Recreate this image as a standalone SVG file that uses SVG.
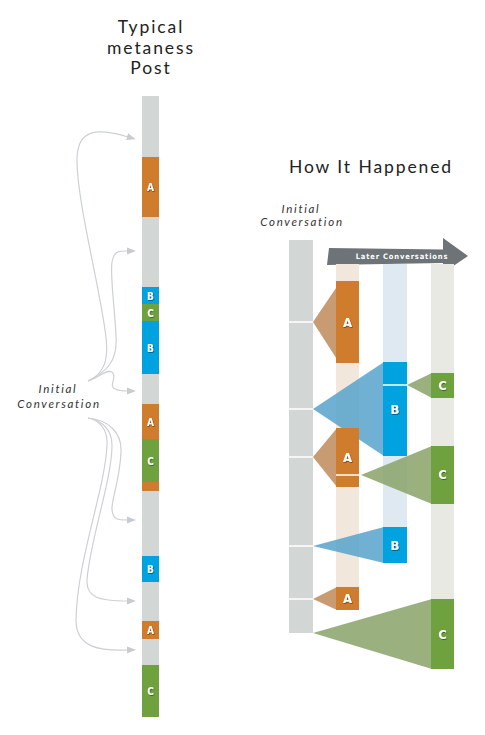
<svg xmlns="http://www.w3.org/2000/svg" width="485" height="735" viewBox="0 0 485 735">
<style>
.title{font-family:Lato,"DejaVu Sans",sans-serif;font-size:17.5px;fill:#222;letter-spacing:1.9px;text-anchor:middle}
.ital{font-family:Lato,"DejaVu Sans",sans-serif;font-style:italic;font-size:11.5px;fill:#333;letter-spacing:1.7px;text-anchor:middle}
.lbl{font-family:"DejaVu Sans Condensed","DejaVu Sans",sans-serif;font-weight:bold;fill:#fff;text-anchor:middle;filter:url(#sh)}
.s{font-size:10px}
.b{font-size:13px}
.gray{fill:#d2d6d4}
.or{fill:#cf7c2c}
.bl{fill:#00a3e0}
.gr{fill:#6fa23f}
.con{fill:none;stroke:#cdd1d4;stroke-width:1.2;marker-end:url(#ah)}
.sep{stroke:#fff;stroke-width:1.5}
.tt{fill:#c08a59;fill-opacity:0.85}
.tb{fill:#56a2cb;fill-opacity:0.85}
.tg{fill:#8aa269;fill-opacity:0.85}
</style>
<defs>
<marker id="ah" markerWidth="9" markerHeight="8" refX="1" refY="4" orient="auto" markerUnits="userSpaceOnUse">
<path d="M0,0.5 L9,4 L0,7.5 Z" fill="#c8ccd0"/>
</marker>
<filter id="sh" x="-50%" y="-50%" width="200%" height="200%">
<feDropShadow dx="0.6" dy="0.8" stdDeviation="0.6" flood-color="#000" flood-opacity="0.5"/>
</filter>
</defs>
<rect width="485" height="735" fill="#fff"/>

<g id="title-left">
<text class="title" x="151" y="33">Typical</text>
<text class="title" x="151" y="54">metaness</text>
<text class="title" x="151" y="74">Post</text>
</g>
<g id="label-left">
<text class="ital" x="58" y="393">Initial</text>
<text class="ital" x="59" y="408">Conversation</text>
</g>

<g id="post-column">
<rect class="gray" x="142" y="96" width="17" height="61"/>
<rect class="or" x="142" y="157" width="17" height="60"/>
<rect class="gray" x="142" y="217" width="17" height="70"/>
<rect class="bl" x="142" y="287" width="17" height="17"/>
<rect class="gr" x="142" y="304" width="17" height="17"/>
<rect class="bl" x="142" y="321" width="17" height="53"/>
<rect class="gray" x="142" y="374" width="17" height="30"/>
<rect class="or" x="142" y="404" width="17" height="35"/>
<rect class="gr" x="142" y="439" width="17" height="43"/>
<rect class="or" x="142" y="482" width="17" height="9"/>
<rect class="gray" x="142" y="491" width="17" height="65"/>
<rect class="bl" x="142" y="556" width="17" height="26"/>
<rect class="gray" x="142" y="582" width="17" height="39"/>
<rect class="or" x="142" y="621" width="17" height="18"/>
<rect class="gray" x="142" y="639" width="17" height="26"/>
<rect class="gr" x="142" y="665" width="17" height="52"/>
<text class="lbl s" x="150.5" y="191">A</text>
<text class="lbl s" x="150.5" y="299.5">B</text>
<text class="lbl s" x="150.5" y="316.5">C</text>
<text class="lbl s" x="150.5" y="351.5">B</text>
<text class="lbl s" x="150.5" y="425.5">A</text>
<text class="lbl s" x="150.5" y="464.5">C</text>
<text class="lbl s" x="150.5" y="573">B</text>
<text class="lbl s" x="150.5" y="634">A</text>
<text class="lbl s" x="150.5" y="695">C</text>
</g>

<g id="connectors">
<path class="con" d="M88,381 C104,374 110,360 105,330 C98,280 77,200 77,160 C77,128 98,128 128,137"/>
<path class="con" d="M88,381 C106,372 118,362 116,335 C114,300 110,275 112,262 C114,251 118,251 128,251"/>
<path class="con" d="M88,381 C98,378 106,369 112,372 C118,376 108,386 115,389 C119,391 122,391 128,391"/>
<path class="con" d="M88,418 C108,420 122,432 121,452 C120,480 111,500 112,510 C113,520 118,520 128,520"/>
<path class="con" d="M88,418 C100,420 112,428 112,445 C112,480 90,540 87,580 C86,598 100,601 128,601"/>
<path class="con" d="M88,418 C98,420 108,428 107,445 C105,490 77,560 76,620 C76,648 100,651 128,650"/>
</g>

<g id="title-right">
<text class="title" x="371" y="173">How It Happened</text>
</g>
<g id="label-right">
<text class="ital" x="301" y="213">Initial</text>
<text class="ital" x="302" y="226">Conversation</text>
</g>

<g id="later-arrow">
<path d="M329,248 L443,249.5 L443,238 L468,256 L443,273 L443,263 L327,265 Z" fill="#6d7377"/>
<text x="402" y="259" font-family="'DejaVu Sans Condensed','DejaVu Sans',sans-serif" font-weight="bold" font-size="7.5" fill="#fff" letter-spacing="0.85" text-anchor="middle">Later Conversations</text>
</g>

<g id="initial-column">
<rect class="gray" x="289" y="240" width="24" height="393"/>
<line class="sep" x1="289" y1="322" x2="313" y2="322"/>
<line class="sep" x1="289" y1="409" x2="313" y2="409"/>
<line class="sep" x1="289" y1="457" x2="313" y2="457"/>
<line class="sep" x1="289" y1="546" x2="313" y2="546"/>
<line class="sep" x1="289" y1="599" x2="313" y2="599"/>
</g>

<g id="later-columns">
<rect x="336" y="264" width="23" height="323" fill="#f2e7dd"/>
<rect x="383" y="264" width="24" height="263" fill="#dfe9f1"/>
<rect x="431" y="264" width="23" height="335" fill="#e7e9e2"/>
</g>

<g id="thread-a1">
<polygon class="tt" points="313,322 338,285 338,361"/>
<rect class="or" x="336" y="281" width="23" height="82"/>
<text class="lbl b" x="347.5" y="327">A</text>
</g>
<g id="thread-b1">
<polygon class="tb" points="313,409 384,362 384,456"/>
<rect class="bl" x="383" y="362" width="24" height="94"/>
<line class="sep" x1="383" y1="385" x2="407" y2="385"/>
<text class="lbl b" x="395" y="414">B</text>
</g>
<g id="thread-c1">
<polygon class="tg" points="407,385 432,373 432,398"/>
<rect class="gr" x="431" y="373" width="23" height="25"/>
<text class="lbl b" x="442.5" y="390">C</text>
</g>
<g id="thread-a2">
<polygon class="tt" points="313,457 337,428 337,487"/>
<rect class="or" x="336" y="428" width="23" height="59"/>
<line class="sep" x1="336" y1="475" x2="359" y2="475"/>
<text class="lbl b" x="347.5" y="462">A</text>
</g>
<g id="thread-c2">
<polygon class="tg" points="361,475 432,446 432,504"/>
<rect class="gr" x="431" y="446" width="23" height="58"/>
<text class="lbl b" x="442.5" y="479">C</text>
</g>
<g id="thread-b2">
<polygon class="tb" points="313,546 384,527 384,563"/>
<rect class="bl" x="383" y="527" width="24" height="36"/>
<text class="lbl b" x="395" y="550">B</text>
</g>
<g id="thread-a3">
<polygon class="tt" points="313,599 337,587 337,610"/>
<rect class="or" x="336" y="587" width="23" height="23"/>
<text class="lbl b" x="347.5" y="603">A</text>
</g>
<g id="thread-c3">
<polygon class="tg" points="313,633 432,599 432,669"/>
<rect class="gr" x="431" y="599" width="23" height="70"/>
<text class="lbl b" x="442.5" y="639">C</text>
</g>
</svg>
